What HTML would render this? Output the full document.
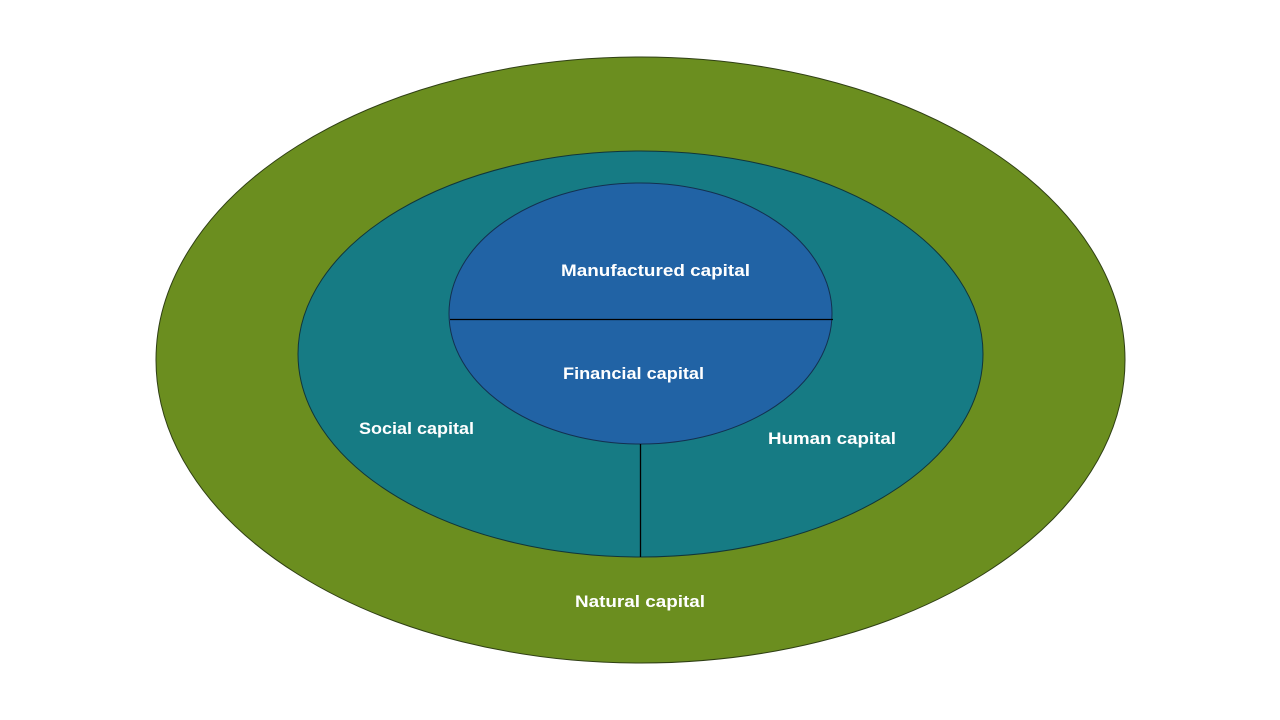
<!DOCTYPE html>
<html><head><meta charset="utf-8"><style>
html,body{margin:0;padding:0;background:#fff;}
svg{display:block;}
text{font-family:"Liberation Sans",sans-serif;font-weight:bold;font-size:17px;fill:#fff;}
</style></head><body>
<svg width="1280" height="720" viewBox="0 0 1280 720">
<ellipse cx="640.5" cy="360" rx="484.5" ry="303" fill="#6B8E1F" stroke="#2F3F14" stroke-width="1"/>
<ellipse cx="640.5" cy="354" rx="342.5" ry="203" fill="#167B84" stroke="#10353A" stroke-width="1"/>
<ellipse cx="640.5" cy="313.5" rx="191.5" ry="130.5" fill="#2163A5" stroke="#13304F" stroke-width="1"/>
<line x1="450" y1="319.5" x2="833" y2="319.5" stroke="#000" stroke-width="1.3"/>
<line x1="640.5" y1="444" x2="640.5" y2="557" stroke="#000" stroke-width="1.3"/>
<text x="561" y="276" textLength="189" lengthAdjust="spacingAndGlyphs">Manufactured capital</text>
<text x="563" y="379" textLength="141" lengthAdjust="spacingAndGlyphs">Financial capital</text>
<text x="359" y="434" textLength="115" lengthAdjust="spacingAndGlyphs">Social capital</text>
<text x="768" y="444" textLength="128" lengthAdjust="spacingAndGlyphs">Human capital</text>
<text x="575" y="607" textLength="130" lengthAdjust="spacingAndGlyphs">Natural capital</text>
</svg>
</body></html>
